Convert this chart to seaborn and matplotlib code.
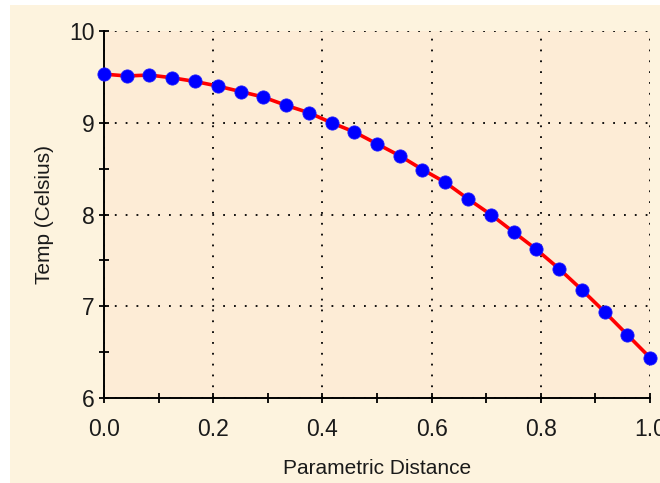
import numpy as np
import pandas as pd
import seaborn as sns
import matplotlib
matplotlib.use("Agg")
import matplotlib.pyplot as plt
from matplotlib import font_manager
from matplotlib.patches import Rectangle
from matplotlib.ticker import MultipleLocator

# ---- data ----
distance = [0.0, 0.0417, 0.0833, 0.125, 0.1667, 0.2083, 0.25, 0.2917, 0.3333,
            0.375, 0.4167, 0.4583, 0.5, 0.5417, 0.5833, 0.625, 0.6667, 0.7083,
            0.75, 0.7917, 0.8333, 0.875, 0.9167, 0.9583, 1.0]
temp = [9.53, 9.51, 9.52, 9.49, 9.45, 9.40, 9.34, 9.28, 9.19, 9.11, 9.00,
        8.90, 8.77, 8.64, 8.49, 8.35, 8.17, 8.00, 7.81, 7.62, 7.41, 7.18,
        6.94, 6.69, 6.44]
x_label = "Parametric Distance"
y_label = "Temp (Celsius)"
x_ticks = [0.0, 0.2, 0.4, 0.6, 0.8, 1.0]
y_ticks = [6, 7, 8, 9, 10]

df = pd.DataFrame({"distance": distance, "temp": temp})

sns.set_theme(style="white")
plt.rcParams["font.family"] = ["Liberation Sans", "DejaVu Sans"]
tsize, lsize = 16.5, 15

fig = plt.figure(figsize=(6.6, 4.83), dpi=100, facecolor="white")
# beige panel behind everything (white margin top/left)
fig.patches.append(Rectangle((10 / 660, 0), 1 - 10 / 660, 1 - 5 / 483,
                             transform=fig.transFigure, facecolor="#fdf3de",
                             edgecolor="none", zorder=-10))

ax = fig.add_axes([104 / 660, 1 - 398 / 483, 546 / 660, (398 - 31) / 483])
ax.set_facecolor("#fdecd6")

sns.lineplot(data=df, x="distance", y="temp", ax=ax, color="#ff0000",
             linewidth=2.6, marker="o", markersize=9.5,
             markerfacecolor="#0000ff", markeredgecolor="#1a1aff",
             markeredgewidth=0.6, clip_on=False, zorder=5)

ax.set_xlim(0, 1)
ax.set_ylim(6, 10)
ax.set_xticks(x_ticks)
ax.set_xticklabels([f"{v:.1f}" for v in x_ticks])
ax.set_yticks(y_ticks)
ax.set_yticklabels([str(v) for v in y_ticks])
ax.xaxis.set_minor_locator(MultipleLocator(0.1))
ax.yaxis.set_minor_locator(MultipleLocator(0.5))

for s in ["top", "right"]:
    ax.spines[s].set_visible(False)
for s in ["left", "bottom"]:
    ax.spines[s].set_color("black")
    ax.spines[s].set_linewidth(1.4)

ax.tick_params(axis="both", which="both", direction="inout", length=7,
               width=1.3, color="black", labelcolor="#1a1a1a",
               bottom=True, left=True, top=False, right=False)
ax.tick_params(axis="x", which="major", labelsize=tsize, pad=11)
ax.tick_params(axis="y", which="major", labelsize=tsize, pad=3)

ax.grid(True, which="major", color="black", linestyle=(0, (1, 5)),
        linewidth=1.3)
ax.set_axisbelow(True)

ax.set_xlabel(x_label, fontsize=lsize, color="#1a1a1a", labelpad=13)
ax.set_ylabel(y_label, fontsize=lsize, color="#1a1a1a", labelpad=11)

fig.savefig("out.png", dpi=100, facecolor=fig.get_facecolor())
